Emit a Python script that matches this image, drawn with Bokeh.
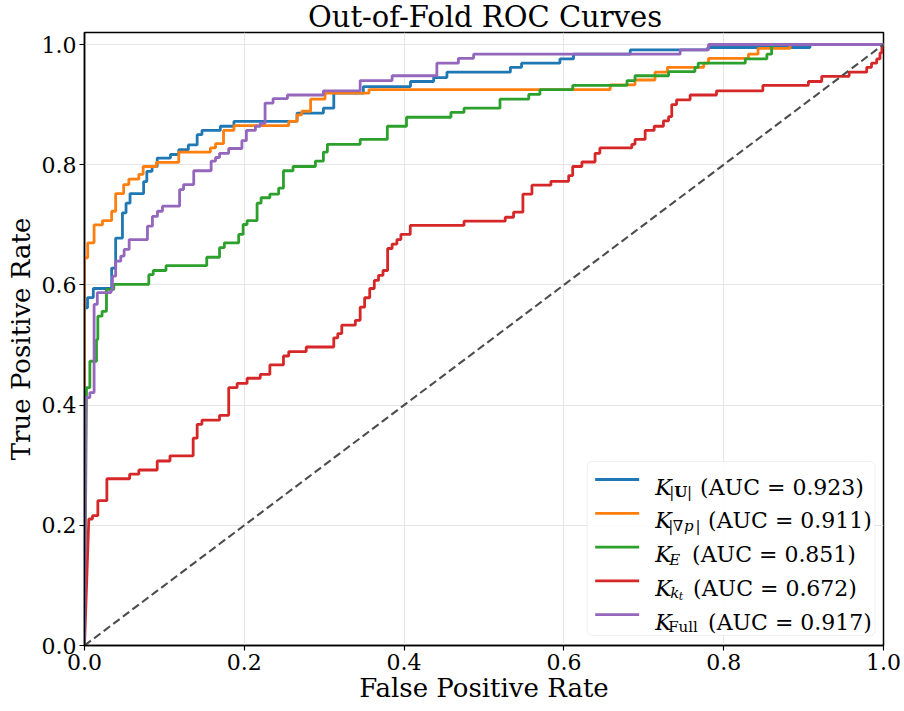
import numpy as np
from bokeh.plotting import figure
from bokeh.layouts import column
from bokeh.models import Range1d, FixedTicker, NumeralTickFormatter, BoxAnnotation, Label, Div
from bokeh.embed import file_html
from bokeh.resources import INLINE

# ---------------- data ----------------
title_text = "Out-of-Fold ROC Curves"
series_names = ["K_|U|", "K_|grad p|", "K_E", "K_kt", "K_Full"]
auc_values = [0.923, 0.911, 0.851, 0.672, 0.917]
colors = ["#1f77b4", "#ff7f0e", "#2ca02c", "#d62728", "#9467bd"]
x_ticks = [0.0, 0.2, 0.4, 0.6, 0.8, 1.0]
y_ticks = [0.0, 0.2, 0.4, 0.6, 0.8, 1.0]

# ROC steps: FPR where the TPR rises, and the TPR reached there
u_fpr = [0.0, 0.0038, 0.011, 0.034, 0.039, 0.0475, 0.052, 0.057, 0.074, 0.078, 0.0846,
         0.091, 0.1076, 0.118, 0.130, 0.141, 0.147, 0.170, 0.187, 0.266, 0.299, 0.312,
         0.349, 0.408, 0.437, 0.4536, 0.533, 0.547, 0.595, 0.612, 0.683, 0.78, 0.908, 1.0]
u_tpr = [0.562, 0.579, 0.594, 0.628, 0.678, 0.72, 0.736, 0.752, 0.772, 0.789, 0.797,
         0.811, 0.817, 0.825, 0.833, 0.850, 0.857, 0.864, 0.872, 0.886, 0.894, 0.919,
         0.930, 0.9385, 0.945, 0.954, 0.962, 0.969, 0.976, 0.984, 0.991, 0.995, 1.0, 1.0]

p_fpr = [0.0, 0.004, 0.012, 0.0225, 0.034, 0.039, 0.049, 0.0555, 0.068, 0.0734, 0.090,
         0.118, 0.1576, 0.164, 0.174, 0.187, 0.2556, 0.266, 0.272, 0.283, 0.301, 0.356,
         0.658, 0.689, 0.714, 0.7296, 0.775, 0.781, 0.831, 0.843, 0.883, 1.0]
p_tpr = [0.645, 0.670, 0.700, 0.707, 0.7226, 0.752, 0.767, 0.776, 0.784, 0.797, 0.804,
         0.821, 0.828, 0.835, 0.857, 0.865, 0.872, 0.883, 0.889, 0.909, 0.919, 0.925,
         0.933, 0.941, 0.954, 0.962, 0.969, 0.977, 0.984, 0.9935, 1.0, 1.0]

e_fpr = [0.0025, 0.0067, 0.015, 0.0167, 0.022, 0.0275, 0.0367, 0.0805, 0.086, 0.102,
         0.153, 0.169, 0.175, 0.193, 0.1985, 0.2035, 0.216, 0.221, 0.232, 0.243, 0.249,
         0.261, 0.289, 0.299, 0.304, 0.345, 0.379, 0.403, 0.4586, 0.475, 0.520, 0.556,
         0.570, 0.611, 0.679, 0.689, 0.731, 0.764, 0.768, 0.827, 0.854, 0.860, 1.0]
e_tpr = [0.429, 0.473, 0.509, 0.548, 0.556, 0.5925, 0.601, 0.617, 0.624, 0.632,
         0.646, 0.662, 0.670, 0.684, 0.7005, 0.707, 0.736, 0.745, 0.751, 0.761, 0.790,
         0.797, 0.806, 0.821, 0.834, 0.842, 0.864, 0.879, 0.887, 0.894, 0.909, 0.917,
         0.925, 0.932, 0.940, 0.948, 0.955, 0.962, 0.969, 0.976, 0.984, 1.0, 1.0]

k_fpr = [0.0054, 0.010, 0.0167, 0.028, 0.0565, 0.068, 0.091, 0.107, 0.136, 0.141, 0.147,
         0.169, 0.1805, 0.191, 0.2035, 0.220, 0.232, 0.249, 0.2556, 0.2775, 0.312, 0.317,
         0.322, 0.339, 0.345, 0.3506, 0.357, 0.3627, 0.368, 0.3736, 0.3794, 0.385, 0.391,
         0.396, 0.4077, 0.475, 0.5266, 0.537, 0.5487, 0.560, 0.5837, 0.606, 0.611, 0.6225,
         0.639, 0.645, 0.685, 0.689, 0.7017, 0.713, 0.7246, 0.731, 0.735, 0.741, 0.758,
         0.791, 0.849, 0.906, 0.9227, 0.957, 0.979, 0.985, 0.9915, 0.9956, 0.998, 1.0]
k_tpr = [0.2105, 0.216, 0.241, 0.2775, 0.285, 0.292, 0.307, 0.3156, 0.345, 0.368, 0.375,
         0.383, 0.429, 0.436, 0.4447, 0.451, 0.4668, 0.4817, 0.489, 0.4967, 0.512, 0.519,
         0.533, 0.541, 0.563, 0.5786, 0.594, 0.6075, 0.616, 0.624, 0.6606, 0.668, 0.6755,
         0.684, 0.699, 0.706, 0.7126, 0.721, 0.751, 0.766, 0.7724, 0.782, 0.797, 0.8045,
         0.819, 0.828, 0.834, 0.842, 0.857, 0.864, 0.873, 0.880, 0.900, 0.908, 0.916,
         0.923, 0.932, 0.9385, 0.947, 0.954, 0.962, 0.969, 0.976, 0.986, 0.995, 1.0]

f_fpr = [0.0017, 0.0067, 0.012, 0.016, 0.033, 0.035, 0.039, 0.0454, 0.0496, 0.0559,
         0.0788, 0.085, 0.0913, 0.0976, 0.119, 0.124, 0.1367, 0.1585, 0.164, 0.169,
         0.1805, 0.197, 0.2026, 0.2139, 0.220, 0.226, 0.236, 0.254, 0.299, 0.345, 0.385,
         0.441, 0.468, 0.487, 0.7455, 0.781, 1.0]
f_tpr = [0.4125, 0.4208, 0.5676, 0.587, 0.591, 0.6146, 0.6395, 0.648, 0.659, 0.6755,
         0.6977, 0.714, 0.7226, 0.731, 0.7586, 0.767, 0.790, 0.806, 0.812, 0.819,
         0.827, 0.840, 0.857, 0.864, 0.869, 0.9025, 0.910, 0.916, 0.923, 0.940, 0.948,
         0.969, 0.977, 0.984, 0.991, 1.0, 1.0]

curves = [(u_fpr, u_tpr), (p_fpr, p_tpr), (e_fpr, e_tpr), (k_fpr, k_tpr), (f_fpr, f_tpr)]

# legend label runs: (text, font style, subscript level)
legend_runs = [
    [("K", "italic", 0), ("|", "normal", 1), ("U", "bold", 1), ("|", "normal", 1)],
    [("K", "italic", 0), ("|", "normal", 1), ("\u2207", "normal", 1), ("p", "italic", 1), ("|", "normal", 1)],
    [("K", "italic", 0), ("E", "italic", 1)],
    [("K", "italic", 0), ("k", "italic", 1), ("t", "italic", 2)],
    [("K", "italic", 0), ("Full", "normal", 1)],
]

FONT = "DejaVu Serif"

# ---------------- title (HTML block above the plot) ----------------
title_div = Div(text=title_text, width=800, height=31, margin=(0, 0, 0, 85),
                styles={"font-family": FONT, "font-size": "29px", "line-height": "34px",
                        "text-align": "center", "color": "black", "white-space": "nowrap",
                        "width": "800px", "overflow": "visible", "padding-top": "0px"})

# ---------------- figure ----------------
p = figure(width=904, height=680, x_range=Range1d(0, 1), y_range=Range1d(0, 1.02),
           output_backend="svg", toolbar_location=None, margin=(0, 0, 0, 0),
           min_border_left=84, min_border_right=21, min_border_top=1, min_border_bottom=66)
p.background_fill_color = "white"
p.border_fill_color = "white"
p.outline_line_color = "black"
p.outline_line_width = 1.5
p.outline_line_alpha = 1.0

for ax in (p.xaxis[0], p.yaxis[0]):
    ax.axis_line_color = "black"
    ax.axis_line_width = 1.5
    ax.major_tick_out = 5
    ax.major_tick_in = 0
    ax.major_tick_line_width = 1.2
    ax.major_tick_line_color = "black"
    ax.minor_tick_line_color = None
    ax.major_label_text_font = FONT
    ax.major_label_text_font_size = "22px"
    ax.major_label_text_color = "black"
    ax.major_label_standoff = 3
    ax.axis_label_text_font = FONT
    ax.axis_label_text_font_size = "26px"
    ax.axis_label_text_font_style = "normal"
    ax.axis_label_text_color = "black"
    ax.formatter = NumeralTickFormatter(format="0.0")

p.xaxis[0].ticker = FixedTicker(ticks=x_ticks)
p.yaxis[0].ticker = FixedTicker(ticks=y_ticks)
p.xaxis[0].axis_label = "False Positive Rate"
p.yaxis[0].axis_label = "True Positive Rate"
p.xaxis[0].axis_label_standoff = 0
p.yaxis[0].axis_label_standoff = 3

p.xgrid.ticker = FixedTicker(ticks=x_ticks)
p.ygrid.ticker = FixedTicker(ticks=y_ticks)
p.grid.grid_line_color = "#e6e6e6"
p.grid.grid_line_width = 1


def roc_path(fpr, tpr):
    # first point joined straight from the origin, then vertical/horizontal steps
    xs, ys = [0.0, fpr[0]], [0.0, tpr[0]]
    prev = tpr[0]
    for x, y in zip(fpr[1:], tpr[1:]):
        xs += [x, x]
        ys += [prev, y]
        prev = y
    return xs, ys


for (fpr, tpr), c in zip(curves, colors):
    xs, ys = roc_path(fpr, tpr)
    p.line(xs, ys, line_color=c, line_width=2.8)

p.line([0, 1], [0, 1], line_color="#4d4d4d", line_width=2.1, line_dash="8 4")


# ---------------- helpers: page pixel -> data coordinates ----------------
def dx(px):
    return (px - 84) / 799.5


def dy(py):
    return (645 - py) / 601.0


# ---------------- legend (manual, to reproduce the math labels) ----------------
box = BoxAnnotation(left=dx(587), right=dx(875), top=dy(461), bottom=dy(635),
                    fill_color="white", fill_alpha=0.85, line_color="#cccccc",
                    line_width=1, border_radius=5)
p.add_layout(box)

run_sizes = {0: 22, 1: 15, 2: 11}
run_shift = {0: 0, 1: 5, 2: 8}
# horizontal start (px) of each run and of the "(AUC = ...)" text, per row
run_x = [[655, 669, 674, 687], [655, 668, 672.5, 684, 695.5], [655, 669], [655, 670, 678.5], [655, 668]]
auc_x = [700, 708, 692, 693, 708]

for i, runs in enumerate(legend_runs):
    cy = 479 + i * 33.8
    base = cy + 7.5
    p.segment(x0=[dx(595)], y0=[dy(cy)], x1=[dx(639)], y1=[dy(cy)],
              line_color=colors[i], line_width=2.8, level="overlay")
    for (text, style, lvl), xpos in zip(runs, run_x[i]):
        p.add_layout(Label(x=dx(xpos), y=dy(base + run_shift[lvl]), text=text,
                           text_font=FONT, text_font_size=f"{run_sizes[lvl]}px",
                           text_font_style=style, text_color="black",
                           text_align="left", text_baseline="alphabetic"))
    p.add_layout(Label(x=dx(auc_x[i]), y=dy(base), text=f"(AUC = {auc_values[i]:.3f})",
                       text_font=FONT, text_font_size="22px", text_color="black",
                       text_align="left", text_baseline="alphabetic"))

layout = column(title_div, p, spacing=0)
open("out.html", "w").write(file_html(layout, INLINE))
